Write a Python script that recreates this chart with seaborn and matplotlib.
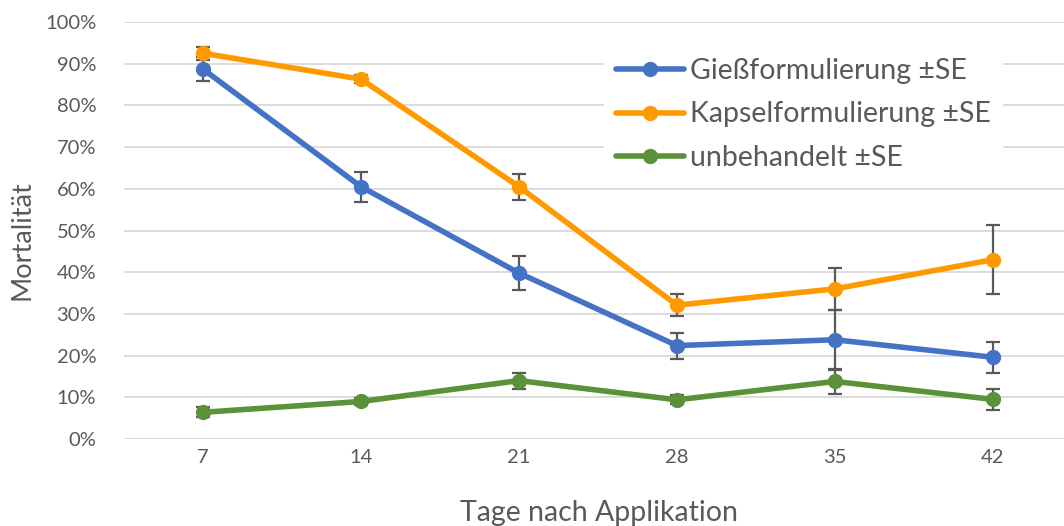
import matplotlib.pyplot as plt
import pandas as pd
import seaborn as sns
from matplotlib.ticker import PercentFormatter

days = [7, 14, 21, 28, 35, 42]
giess = [88.7, 60.5, 39.8, 22.4, 23.8, 19.6]
giess_se = [2.8, 3.6, 4.0, 3.1, 7.2, 3.7]
kapsel = [92.5, 86.3, 60.5, 32.1, 36.0, 43.0]
kapsel_se = [1.5, 0.9, 3.1, 2.7, 5.1, 8.3]
unbeh = [6.4, 9.0, 14.0, 9.4, 13.8, 9.5]
unbeh_se = [1.2, 0.8, 1.9, 1.1, 3.1, 2.5]

labels = ["Gießformulierung ±SE", "Kapselformulierung ±SE", "unbehandelt ±SE"]
colors = ["#4472C4", "#FF9900", "#5B9138"]

df = pd.concat([
    pd.DataFrame({"pos": range(len(days)), "wert": v, "se": s, "gruppe": lab})
    for v, s, lab in zip([giess, kapsel, unbeh], [giess_se, kapsel_se, unbeh_se], labels)
])

sns.set_theme(style="white")
plt.rcParams["font.family"] = ["Lato", "DejaVu Sans"]

fig = plt.figure(figsize=(10.64, 5.26), dpi=100)
ax = fig.add_axes([124 / 1064, 1 - 439 / 526, 1 - 124 / 1064, 417 / 526])

# error bars first, lines on top
for lab in labels:
    d = df[df["gruppe"] == lab]
    ax.errorbar(d["pos"], d["wert"], yerr=d["se"], fmt="none",
                ecolor="#595959", elinewidth=1.6, capsize=5, capthick=1.6, zorder=2)

sns.lineplot(data=df, x="pos", y="wert", hue="gruppe", palette=colors,
             marker="o", markersize=11, markeredgewidth=0, linewidth=4,
             ax=ax, zorder=3)

ax.set_xlim(-0.5, 5.45)
ax.set_ylim(0, 100)
ax.set_yticks(range(0, 101, 10))
ax.yaxis.set_major_formatter(PercentFormatter(decimals=0))
ax.set_xticks(range(len(days)))
ax.set_xticklabels(days)
ax.grid(axis="y", color="#d9d9d9", linewidth=1.3)
ax.set_axisbelow(True)
sns.despine(ax=ax, left=True, bottom=True)
ax.tick_params(axis="both", length=0, labelsize=14.5, colors="#595959")
ax.tick_params(axis="y", pad=20)
ax.tick_params(axis="x", pad=7)

ax.set_xlabel("Tage nach Applikation", fontsize=20.5, color="#595959", va="center")
ax.xaxis.set_label_coords(0.505, -0.178)
ax.set_ylabel("Mortalität", fontsize=19.5, color="#595959", va="center")
ax.yaxis.set_label_coords(-0.108, 0.477)

leg = ax.legend(loc="upper left", bbox_to_anchor=(0.511, 0.94), frameon=True,
                fontsize=20.5, handlelength=2.4, handletextpad=0.2,
                labelspacing=0.6, borderaxespad=0)
leg.get_frame().set_edgecolor("white")
leg.get_frame().set_facecolor("white")
leg.get_frame().set_alpha(1)
for t in leg.get_texts():
    t.set_color("#595959")

fig.savefig("out.png", dpi=100)
